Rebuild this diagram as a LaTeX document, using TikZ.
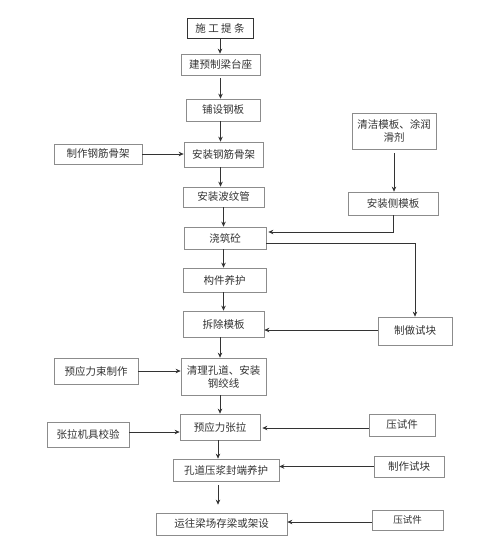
\documentclass[tikz,border=0pt]{standalone}
\usepackage{fontspec}
\setmainfont{Noto Sans CJK SC}
\usepackage{xcolor}
\usepackage{tikz}
\usetikzlibrary{arrows.meta}
\usetikzlibrary{positioning}
\definecolor{boxline}{HTML}{8C8C8C}
\definecolor{ink}{HTML}{333333}
\tikzset{
  stepbox/.style={
    draw=boxline, line width=0.7pt, fill=white, text=ink,
    inner sep=0pt, align=center,
    font=\fontsize{10.5}{13}\selectfont,
  },
  flow/.style={
    draw=ink, line width=0.8pt,
    -{Stealth[length=5pt,width=4.5pt]},
  },
}

\begin{document}
\begin{tikzpicture}[x=1pt, y=-1pt]

  \useasboundingbox (0,0) rectangle (483,557);

  % Define nodes
  \node[stepbox, draw=ink, line width=1pt, minimum width=66, minimum height=20] (start) at (220,28) {施 工 提 条};
  \node[stepbox, minimum width=79, minimum height=21] (taizuo) at (220.5,64.5) {建预制梁台座};
  \node[stepbox, minimum width=74, minimum height=22] (gangban) at (223,110) {铺设钢板};
  \node[stepbox, minimum width=79, minimum height=25] (gujia) at (223.5,154.5) {安装钢筋骨架};
  \node[stepbox, minimum width=81, minimum height=20] (bowen) at (223.5,197) {安装波纹管};
  \node[stepbox, minimum width=82, minimum height=22] (jiaozhu) at (225,238) {浇筑砼};
  \node[stepbox, minimum width=83, minimum height=24] (yanghu) at (224.5,280) {构件养护};
  \node[stepbox, minimum width=81, minimum height=26] (chaichu) at (223.5,324) {拆除模板};
  \node[stepbox, minimum width=85, minimum height=37] (qingli) at (223.5,376.5) {清理孔道、安装\\钢绞线};
  \node[stepbox, minimum width=80, minimum height=26] (zhangla) at (220,427) {预应力张拉};
  \node[stepbox, minimum width=106, minimum height=22] (yajiang) at (226,470) {孔道压浆封端养护};
  \node[stepbox, minimum width=131, minimum height=22] (yunwang) at (221.5,524) {运往梁场存梁或架设};

  \node[stepbox, minimum width=88, minimum height=20] (gujia_zz) at (98,154) {制作钢筋骨架};
  \node[stepbox, minimum width=84, minimum height=26] (shu_zz) at (96,371) {预应力束制作};
  \node[stepbox, minimum width=82, minimum height=25] (jiaoyan) at (88,434.5) {张拉机具校验};

  \node[stepbox, minimum width=84, minimum height=36] (qingjie) at (394,131) {清洁模板、涂润\\滑剂};
  \node[stepbox, minimum width=90, minimum height=23] (cemo) at (393,203.5) {安装侧模板};
  \node[stepbox, minimum width=74, minimum height=28] (shikuai_a) at (415,331) {制做试块};
  \node[stepbox, minimum width=66, minimum height=22] (shijian_a) at (402,425) {压试件};
  \node[stepbox, minimum width=70, minimum height=21] (shikuai_b) at (409,466.5) {制作试块};
  \node[stepbox, minimum width=71, minimum height=20, font=\fontsize{9.5}{12}\selectfont] (shijian_b) at (407.5,520) {压试件};

  % Connect nodes
  \draw[flow] (start.south) -- (start.south |- taizuo.north);
  \draw[flow, shorten <=3pt] (taizuo.south) -- (taizuo.south |- gangban.north);
  \draw[flow] (taizuo.south |- gangban.south) -- (taizuo.south |- gujia.north);
  \draw[flow] (taizuo.south |- gujia.south) -- (taizuo.south |- bowen.north);
  \draw[flow] (bowen.south) -- (bowen.south |- jiaozhu.north);
  \draw[flow] (bowen.south |- jiaozhu.south) -- (bowen.south |- yanghu.north);
  \draw[flow] (bowen.south |- yanghu.south) -- (bowen.south |- chaichu.north);
  \draw[flow] (start.south |- chaichu.south) -- (start.south |- qingli.north);
  \draw[flow] (start.south |- qingli.south) -- (start.south |- zhangla.north);
  \draw[flow] ([xshift=-2pt]zhangla.south) -- ([xshift=-2pt]zhangla.south |- yajiang.north);
  \draw[flow, shorten <=4pt, shorten >=8pt] ([xshift=-3.5pt]yunwang.north |- yajiang.south) -- ([xshift=-3.5pt]yunwang.north);

  \draw[flow] (gujia_zz.east) -- (gujia_zz.east -| gujia.west);
  \draw[flow] (shu_zz.east) -- (shu_zz.east -| qingli.west);
  \draw[flow] ([yshift=2.5pt]jiaoyan.east) -- ([yshift=2.5pt]jiaoyan.east -| zhangla.west);

  \draw[flow, shorten <=4pt] (qingjie.south) -- (qingjie.south |- cemo.north);
  \draw[flow] (cemo.south) |- ([xshift=2pt, yshift=6pt]jiaozhu.east);
  \draw[flow] ([yshift=-5pt]jiaozhu.east) -| (shikuai_a.north);
  \draw[flow] ([yshift=1pt]shikuai_a.west) -- ([yshift=1pt]shikuai_a.west -| chaichu.east);
  \draw[flow] ([yshift=-3pt]shijian_a.west) -- ([xshift=2pt, yshift=-3pt]shijian_a.west -| zhangla.east);
  \draw[flow] (shikuai_b.west) -- (shikuai_b.west -| yajiang.east);
  \draw[flow] ([yshift=-2pt]shijian_b.west) -- ([yshift=-2pt]shijian_b.west -| yunwang.east);

\end{tikzpicture}
\end{document}
